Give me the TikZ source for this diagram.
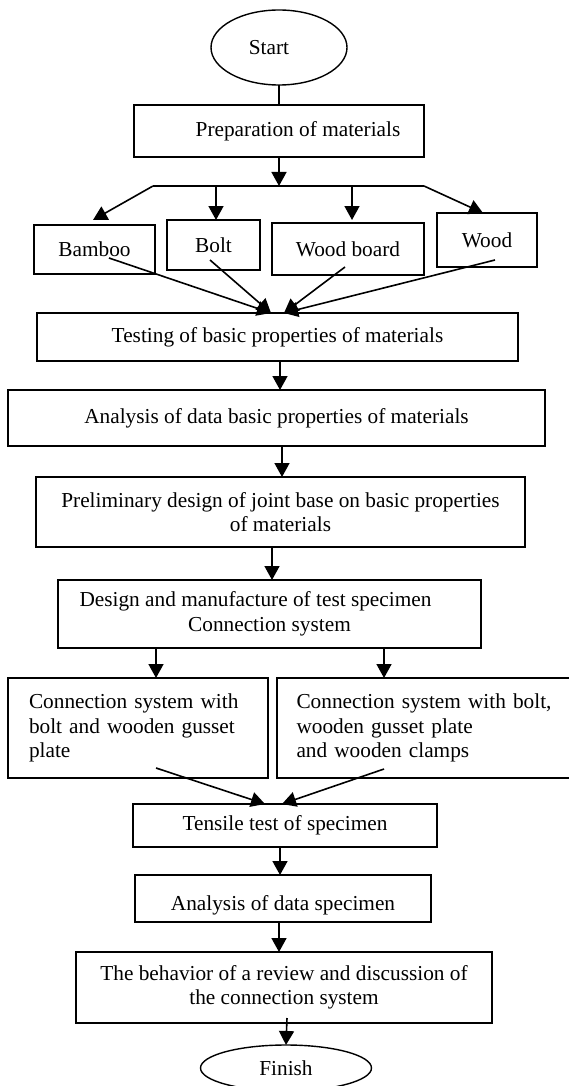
\documentclass[tikz,border=0pt]{standalone}
\usepackage{fontspec}
\setmainfont{Liberation Serif}
\usepackage{tikz}
\usetikzlibrary{arrows.meta, positioning, shapes.geometric}

\newcommand{\fullline}[1]{\makebox[218pt][s]{#1}}

\begin{document}
\begin{tikzpicture}[x=1pt, y=-1pt, font=\fontsize{21.3}{24.5}\selectfont,
        box/.style = {draw, rectangle, line width=1.4pt, outer sep=0pt, align=center},
        term/.style = {draw, ellipse, line width=1.4pt, outer sep=0pt, inner sep=0pt},
        arrow/.style = {-{Triangle[length=14pt, width=15pt]}, line width=1.6pt}]
            \useasboundingbox (0,0) rectangle (568,1086);

            \node (start) [term, minimum width=136pt, minimum height=75pt] at (279,47.5) {Start\hspace*{20pt}};
            \node (prep) [box, minimum width=290pt, minimum height=52pt, below=20pt of start] {\hspace*{38pt}Preparation of materials};

            \node (bamboo) [box, minimum width=121pt, minimum height=49pt, below=68pt of prep, xshift=-184.5pt] {Bamboo};
            \node (bolt) [box, minimum width=93pt, minimum height=50pt, right=12pt of bamboo, yshift=4.5pt] {Bolt};
            \node (board) [box, minimum width=152pt, minimum height=52pt, right=12pt of bolt, yshift=-4pt] {Wood board};
            \node (wood) [box, minimum width=100pt, minimum height=54pt, right=13pt of board, yshift=9pt] {Wood};

            \node (test) [box, minimum width=481pt, minimum height=48pt, below=156pt of prep, xshift=-1.5pt] {Testing of basic properties of materials};
            \node (anal) [box, minimum width=537pt, minimum height=56pt, below=29pt of test, xshift=-1pt] {Analysis of data basic properties of materials};
            \node (prelim) [box, minimum width=489pt, minimum height=70pt, below=31pt of anal, xshift=4pt] {Preliminary design of joint base on basic properties\\ of materials};
            \node (design) [box, minimum width=423pt, minimum height=68pt, below=33pt of prelim, xshift=-11pt] {Design and manufacture of test specimen\hspace*{28pt}\\ Connection system};

            \node (conL) [box, minimum width=260pt, minimum height=100pt, text width=218pt, align=left, below=30pt of design, xshift=-131.5pt] {\fullline{Connection system with}\\ \fullline{bolt and wooden gusset}\\ plate};
            \node (conR) [box, minimum width=293pt, minimum height=100pt, text width=258pt, align=left, right=9pt of conL] {\hspace*{2pt}Connection system with bolt,\\ \hspace*{2pt}wooden gusset plate\\ \hspace*{2pt}and wooden clamps};

            \node (tensile) [box, minimum width=304pt, minimum height=43pt, below=156pt of design, xshift=15.5pt] {Tensile test of specimen};
            \node (spec) [box, minimum width=296pt, minimum height=47pt, below=28pt of tensile, xshift=-2pt] {\raisebox{-7pt}[\height][\depth]{Analysis of data specimen}};
            \node (behav) [box, minimum width=416pt, minimum height=71pt, below=30pt of spec, xshift=1pt] {The behavior of a review and discussion of\\ the connection system};
            \node (finish) [term, minimum width=171pt, minimum height=46pt, below=22pt of behav, xshift=2pt] {Finish};

            \coordinate (forkL) at (153,186);
            \coordinate (forkR) at (424,186);
            \draw[line width=1.6pt] (forkL) -- (forkR);

           \path[arrow]
            (start) edge [-] (prep)
            (prep) edge (prep.south |- forkL)
            (forkL) edge ([xshift=-1.5pt, yshift=5pt]bamboo.north)
            ([xshift=2.5pt]bolt.north |- forkL) edge ([xshift=2.5pt]bolt.north)
            ([xshift=4pt]board.north |- forkL) edge ([xshift=4pt, yshift=3pt]board.north)
            (forkR) edge ([xshift=-4pt]wood.north)
            ([xshift=14.5pt, yshift=16pt]bamboo.south) edge ([xshift=-6.5pt]test.north)
            ([xshift=-3.5pt, yshift=10pt]bolt.south) edge ([xshift=-6.5pt]test.north)
            ([xshift=-3pt, yshift=8pt]board.south) edge ([xshift=6.5pt]test.north)
            ([xshift=8pt, yshift=7pt]wood.south) edge ([xshift=6.5pt]test.north)
            ([xshift=2.5pt]test.south) edge ([xshift=2.5pt]test.south |- anal.north)
            ([xshift=5.5pt]anal.south) edge ([xshift=5.5pt]anal.south |- prelim.north)
            ([xshift=-8.5pt]prelim.south) edge ([xshift=-8.5pt]prelim.south |- design.north)
            ([xshift=18pt]conL.north |- design.south) edge ([xshift=18pt]conL.north)
            ([xshift=-39.5pt]conR.north |- design.south) edge ([xshift=-39.5pt]conR.north)
            ([xshift=18pt, yshift=10pt]conL.south) edge ([xshift=-20pt]tensile.north)
            ([xshift=-39.5pt, yshift=9pt]conR.south) edge ([xshift=-3pt]tensile.north)
            ([xshift=-5pt]tensile.south) edge ([xshift=-5pt]tensile.south |- spec.north)
            ([xshift=-4pt]spec.south) edge ([xshift=-4pt]spec.south |- behav.north)
            ([xshift=3pt, yshift=5pt]behav.south) edge (finish.north);
        \end{tikzpicture}
\end{document}
